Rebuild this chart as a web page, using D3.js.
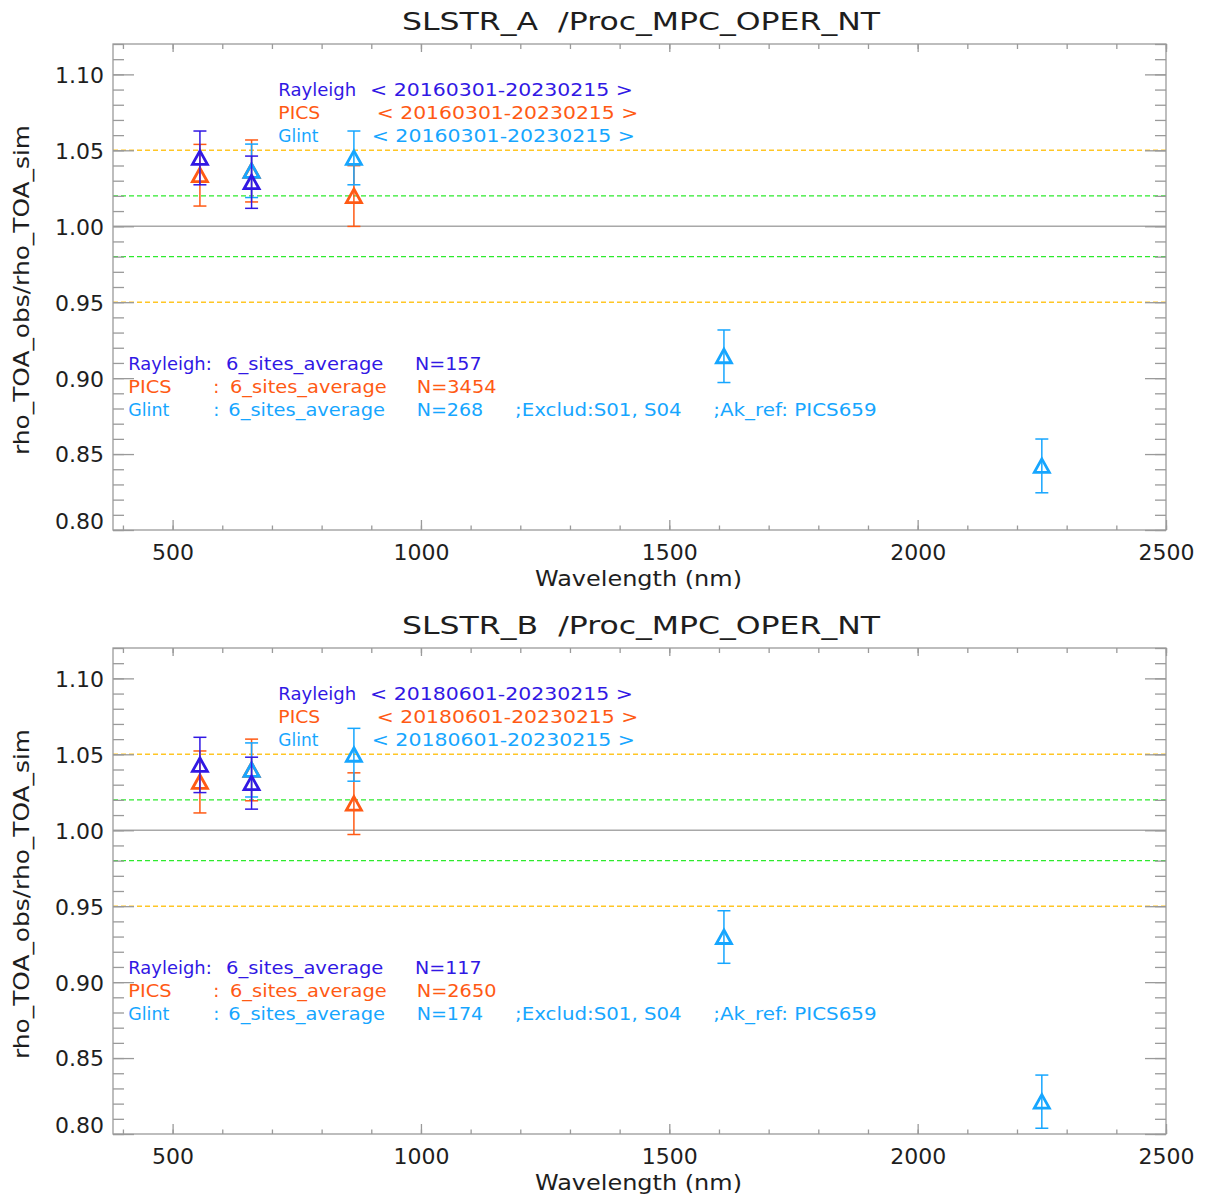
<!DOCTYPE html>
<html>
<head>
<meta charset="utf-8">
<script src="https://cdn.jsdelivr.net/npm/d3@7"></script>
<style>
  html, body { margin: 0; padding: 0; background: #ffffff; }
  svg { display: block; }
  text { font-family: "DejaVu Sans", "Liberation Sans", sans-serif; white-space: pre; }
</style>
</head>
<body>
<div id="chart"></div>
<script>
// ---------------- data ----------------
const panelTitles = ["SLSTR_A  /Proc_MPC_OPER_NT", "SLSTR_B  /Proc_MPC_OPER_NT"];
const seriesNames = ["Rayleigh", "PICS", "Glint"];
const periods = [
  ["< 20160301-20230215 >", "< 20160301-20230215 >", "< 20160301-20230215 >"],
  ["< 20180601-20230215 >", "< 20180601-20230215 >", "< 20180601-20230215 >"]
];
const siteLabel = "6_sites_average";
const counts = [["N=157", "N=3454", "N=268"], ["N=117", "N=2650", "N=174"]];
const glintExtra = [";Exclud:S01, S04", ";Ak_ref: PICS659"];

const rayleighWl = [555, 659];
const picsWl = [555, 659, 865];
const glintWl = [659, 865, 1610, 2250];

const rayleighA = [1.045, 1.029];
const rayleighErrA = [0.0177, 0.0172];
const picsA = [1.0336, 1.0364, 1.0199];
const picsErrA = [0.0203, 0.0204, 0.0200];
const glintA = [1.0365, 1.0450, 0.9144, 0.8422];
const glintErrA = [0.0176, 0.0177, 0.0173, 0.0177];

const rayleighB = [1.0430, 1.0310];
const rayleighErrB = [0.0182, 0.0171];
const picsB = [1.0318, 1.0397, 1.0175];
const picsErrB = [0.0204, 0.0203, 0.0203];
const glintB = [1.0397, 1.0497, 0.9297, 0.8213];
const glintErrB = [0.0178, 0.0174, 0.0173, 0.0175];

const xMajorTicks = [500, 1000, 1500, 2000, 2500];
const yMajorTicks = [0.80, 0.85, 0.90, 0.95, 1.00, 1.05, 1.10];
const yTickLabels = ["0.80", "0.85", "0.90", "0.95", "1.00", "1.05", "1.10"];
const refLines = [
  { v: 1.05, kind: "yellow" }, { v: 0.95, kind: "yellow" },
  { v: 1.02, kind: "green" }, { v: 0.98, kind: "green" },
  { v: 1.00, kind: "gray" }
];
const xLabel = "Wavelength (nm)";
const yLabel = "rho_TOA_obs/rho_TOA_sim";

// ---------------- style / layout ----------------
const colors = { Rayleigh: "#3118e4", PICS: "#ff5a14", Glint: "#16a6ff" };
const refStyle = {
  yellow: { stroke: "#ffc625", dash: "5,3", w: 1.4 },
  green: { stroke: "#2eea2e", dash: "5,3", w: 1.4 },
  gray: { stroke: "#a8a8a8", dash: null, w: 1.3 }
};
const W = 1208, H = 1196;
const L = 113, R = 1166, T = 44, B = 530;
const panelOffsets = [0, 604];

const svg = d3.select("#chart").append("svg").attr("width", W).attr("height", H);

const x = d3.scaleLinear().domain([380, 2500]).range([L, R]);
const y = d3.scaleLinear().domain([0.80, 1.12]).range([B, T]);

const xMinor = d3.range(400, 2501, 100);
const yMinor = d3.range(80, 113, 1).map(d => d / 100);

function txt(g, s, x0, yc, width, color, size, anchor) {
  const t = g.append("text")
    .attr("x", x0).attr("y", yc)
    .attr("dy", "0.36em")
    .attr("fill", color)
    .attr("font-size", size)
    .attr("text-anchor", anchor || "start")
    .text(s);
  if (width) t.attr("textLength", width).attr("lengthAdjust", "spacingAndGlyphs");
  return t;
}

function drawPanel(pi) {
  const g = svg.append("g").attr("transform", `translate(0,${panelOffsets[pi]})`);
  const series = pi === 0
    ? [
        { name: "PICS", wl: picsWl, v: picsA, e: picsErrA },
        { name: "Glint", wl: glintWl, v: glintA, e: glintErrA },
        { name: "Rayleigh", wl: rayleighWl, v: rayleighA, e: rayleighErrA }
      ]
    : [
        { name: "PICS", wl: picsWl, v: picsB, e: picsErrB },
        { name: "Glint", wl: glintWl, v: glintB, e: glintErrB },
        { name: "Rayleigh", wl: rayleighWl, v: rayleighB, e: rayleighErrB }
      ];

  // reference lines
  g.selectAll("line.ref").data(refLines).enter().append("line")
    .attr("class", "ref")
    .attr("x1", L).attr("x2", R)
    .attr("y1", d => y(d.v)).attr("y2", d => y(d.v))
    .attr("stroke", d => refStyle[d.kind].stroke)
    .attr("stroke-width", d => refStyle[d.kind].w)
    .attr("stroke-dasharray", d => refStyle[d.kind].dash);

  const axisColor = "#9a9a9a";
  function styleAxis(a) {
    a.select(".domain").remove();
    a.selectAll(".tick line").attr("stroke", axisColor).attr("stroke-width", 1.3);
    a.selectAll(".tick text").attr("fill", "#1e1e1e").attr("font-size", 22)
      .attr("font-family", '"DejaVu Sans", sans-serif');
  }

  // bottom axis
  const bMinor = g.append("g").attr("transform", `translate(0,${B})`)
    .call(d3.axisBottom(x).tickValues(xMinor).tickSize(-4.5).tickFormat(""));
  styleAxis(bMinor);
  const bMajor = g.append("g").attr("transform", `translate(0,${B})`)
    .call(d3.axisBottom(x).tickValues(xMajorTicks).tickSize(-10).tickFormat(d3.format("d")));
  styleAxis(bMajor);
  bMajor.selectAll(".tick text").attr("y", 22).attr("dy", "0.36em");
  // top axis
  const tMinor = g.append("g").attr("transform", `translate(0,${T})`)
    .call(d3.axisTop(x).tickValues(xMinor).tickSize(-5).tickFormat(""));
  styleAxis(tMinor);
  const tMajor = g.append("g").attr("transform", `translate(0,${T})`)
    .call(d3.axisTop(x).tickValues(xMajorTicks).tickSize(-8).tickFormat(""));
  styleAxis(tMajor);

  // left axis
  const lMinor = g.append("g").attr("transform", `translate(${L},0)`)
    .call(d3.axisLeft(y).tickValues(yMinor).tickSize(-11).tickFormat(""));
  styleAxis(lMinor);
  const lMajor = g.append("g").attr("transform", `translate(${L},0)`)
    .call(d3.axisLeft(y).tickValues(yMajorTicks).tickSize(-21).tickPadding(9)
      .tickFormat((d, i) => yTickLabels[i]));
  styleAxis(lMajor);
  lMajor.selectAll(".tick text").attr("dy", d => (B - y(d) < 10 ? "-0.05em" : "0.36em"));
  // right axis
  const rMinor = g.append("g").attr("transform", `translate(${R},0)`)
    .call(d3.axisRight(y).tickValues(yMinor).tickSize(-11).tickFormat(""));
  styleAxis(rMinor);
  const rMajor = g.append("g").attr("transform", `translate(${R},0)`)
    .call(d3.axisRight(y).tickValues(yMajorTicks).tickSize(-21).tickFormat(""));
  styleAxis(rMajor);

  // frame
  g.append("rect").attr("x", L).attr("y", T).attr("width", R - L).attr("height", B - T)
    .attr("fill", "none").attr("stroke", axisColor).attr("stroke-width", 1.3);

  // data
  const cap = 6.5;
  series.forEach(s => {
    const col = colors[s.name];
    const pts = s.wl.map((w, i) => ({ w, v: s.v[i], e: s.e[i] }));
    const sg = g.append("g");
    const eb = sg.selectAll("g.eb").data(pts).enter().append("g");
    eb.append("line")
      .attr("x1", d => x(d.w)).attr("x2", d => x(d.w))
      .attr("y1", d => y(d.v + d.e)).attr("y2", d => y(d.v - d.e))
      .attr("stroke", col).attr("stroke-width", 1.5);
    eb.append("line")
      .attr("x1", d => x(d.w) - cap).attr("x2", d => x(d.w) + cap)
      .attr("y1", d => y(d.v + d.e)).attr("y2", d => y(d.v + d.e))
      .attr("stroke", col).attr("stroke-width", 1.5);
    eb.append("line")
      .attr("x1", d => x(d.w) - cap).attr("x2", d => x(d.w) + cap)
      .attr("y1", d => y(d.v - d.e)).attr("y2", d => y(d.v - d.e))
      .attr("stroke", col).attr("stroke-width", 1.5);
    sg.selectAll("path.tri").data(pts).enter().append("path")
      .attr("d", d => {
        const cx = x(d.w), cy = y(d.v);
        return `M${cx},${cy - 7} L${cx + 7.5},${cy + 6.5} L${cx - 7.5},${cy + 6.5} Z`;
      })
      .attr("fill", "none").attr("stroke", col).attr("stroke-width", 2.8)
      .attr("stroke-linejoin", "miter");
  });

  // title
  txt(g, panelTitles[pi], 402, 21, 478, "#1e1e1e", 25);
  // axis labels
  txt(g, xLabel, 535, 578, 207, "#1e1e1e", 22);
  g.append("text")
    .attr("transform", `translate(21,${290}) rotate(-90)`)
    .attr("text-anchor", "middle").attr("dy", "0.36em")
    .attr("font-size", 22).attr("fill", "#1e1e1e")
    .attr("textLength", 330).attr("lengthAdjust", "spacingAndGlyphs")
    .text(yLabel);

  // top legend (periods)
  const legY = [90, 113, 136];
  const nameW = [78, 42, 40];
  const perX = [[370, 263], [376.7, 261.6], [371.7, 263.3]];
  seriesNames.forEach((n, i) => {
    txt(g, n, 278.3, legY[i], nameW[i], colors[n], 18);
    txt(g, periods[pi][i], perX[i][0], legY[i], perX[i][1], colors[n], 18);
  });

  // lower-left annotation
  const annY = [364, 387, 410];
  const col = seriesNames.map(n => colors[n]);
  // Rayleigh line
  txt(g, seriesNames[0] + ":", 128.3, annY[0], 83.4, col[0], 18);
  txt(g, siteLabel, 226, annY[0], 157.3, col[0], 18);
  txt(g, counts[pi][0], 415, annY[0], counts[pi][0].length * 13.3, col[0], 18);
  // PICS line
  txt(g, seriesNames[1], 128.3, annY[1], 43.4, col[1], 18);
  txt(g, ":", 213.3, annY[1], null, col[1], 18);
  txt(g, siteLabel, 230, annY[1], 156.7, col[1], 18);
  txt(g, counts[pi][1], 416.7, annY[1], counts[pi][1].length * 13.3, col[1], 18);
  // Glint line
  txt(g, seriesNames[2], 128.3, annY[2], 41, col[2], 18);
  txt(g, ":", 213.3, annY[2], null, col[2], 18);
  txt(g, siteLabel, 228.3, annY[2], 156.7, col[2], 18);
  txt(g, counts[pi][2], 416.7, annY[2], counts[pi][2].length * 13.3, col[2], 18);
  txt(g, glintExtra[0], 515, annY[2], 166.7, col[2], 18);
  txt(g, glintExtra[1], 713.3, annY[2], 163.4, col[2], 18);
}

drawPanel(0);
drawPanel(1);
</script>
</body>
</html>
